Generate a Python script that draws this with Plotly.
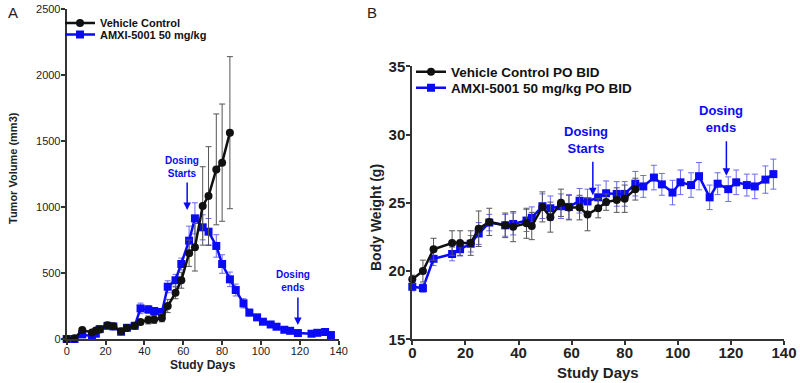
import plotly.graph_objects as go

# ---------------- Panel A: tumor volume ----------------
tv_days_vehicle = [0, 4, 8, 13, 15, 17, 21, 24, 28, 31, 35, 38, 42, 45, 49, 52, 56, 59, 63, 66, 70, 73, 77, 80, 84]
tv_vehicle = [0, 5, 68, 50, 65, 72, 104, 97, 58, 84, 100, 128, 144, 148, 160, 250, 350, 445, 650, 695, 1008, 1083, 1285, 1336, 1563]
tv_vehicle_err = [0, 3, 10, 8, 10, 10, 12, 10, 8, 10, 12, 20, 30, 30, 30, 50, 45, 60, 100, 180, 297, 374, 420, 444, 576]

tv_days_amxi = [0, 4, 8, 13, 15, 17, 21, 24, 28, 31, 35, 38, 42, 45, 49, 52, 56, 59, 63, 66, 70, 73, 77, 80, 84,
                87, 91, 94, 98, 101, 105, 108, 112, 115, 119, 126, 129, 133, 136]
tv_amxi = [0, 0, 35, 20, 40, 75, 100, 95, 55, 85, 100, 232, 224, 212, 205, 396, 445, 568, 745, 914, 846, 813, 705, 568, 452,
           371, 270, 200, 164, 131, 110, 93, 70, 62, 45, 40, 47, 53, 30]
tv_amxi_err = [0, 2, 8, 8, 10, 12, 12, 10, 8, 10, 12, 40, 30, 25, 25, 45, 45, 45, 110, 118, 95, 100, 85, 70, 55,
               45, 35, 25, 20, 15, 12, 10, 8, 8, 6, 6, 6, 8, 6]

# ---------------- Panel B: body weight ----------------
bw_days_vehicle = [0, 4, 8, 15, 18, 22, 25, 29, 35, 38, 43, 45, 49, 52, 56, 59, 63, 66, 70, 73, 77, 80, 84]
bw_vehicle = [19.4, 20.0, 21.6, 22.05, 22.05, 22.05, 23.1, 23.6, 23.35, 23.25, 23.5, 23.3, 24.7, 23.95, 25.0, 24.65,
              24.65, 24.15, 24.6, 25.05, 25.2, 25.3, 26.0]
bw_vehicle_err = [0.3, 0.8, 0.8, 0.9, 0.9, 0.9, 1.3, 1.0, 0.9, 1.1, 1.1, 1.0, 1.1, 1.1, 1.0, 0.9, 0.9, 1.2, 0.7, 0.6,
                  0.9, 1.0, 0.8]

bw_days_amxi = [0, 4, 8, 15, 18, 22, 25, 29, 35, 38, 43, 45, 49, 52, 56, 59, 63, 66, 70, 73, 77, 80, 84,
                87, 91, 94, 98, 101, 105, 108, 112, 115, 119, 122, 126, 129, 133, 136]
bw_amxi = [18.85, 18.75, 20.9, 21.25, 21.6, 22.0, 22.75, 23.55, 23.35, 23.45, 23.7, 23.9, 24.75, 24.6, 24.75, 24.7,
           25.15, 25.1, 25.4, 25.7, 25.65, 25.65, 26.4, 26.2, 26.85, 26.35, 25.75, 26.5, 26.3, 26.95, 25.4, 26.4,
           26.0, 26.5, 26.3, 26.2, 26.7, 27.1]
bw_amxi_err = [0.3, 0.3, 0.5, 0.5, 0.5, 0.6, 0.8, 0.6, 0.8, 0.8, 0.8, 0.8, 0.9, 0.9, 0.9, 0.9,
               0.9, 0.9, 0.9, 0.9, 0.9, 0.9, 0.9, 0.8, 0.9, 0.8, 0.9, 0.9, 0.9, 1.0, 0.9, 0.8,
               0.9, 0.9, 0.8, 0.9, 1.0, 1.1]

BLUE = "#0a0af5"
BLUE_ERR = "#6b6bf5"
BLACK = "#111111"
BLACK_ERR = "#555555"
AXIS = "#333333"
FONT = "Liberation Sans, Arial, sans-serif"

W, H = 800, 383
def px(x):
    return x / W
def py(y):
    return 1 - y / H

fig = go.Figure()

# Panel A traces
fig.add_trace(go.Scatter(
    x=tv_days_amxi, y=tv_amxi, mode="lines+markers", name="AMXI-5001 50 mg/kg",
    line=dict(color=BLUE, width=2.5), marker=dict(symbol="square", size=8, color=BLUE),
    error_y=dict(type="data", array=tv_amxi_err, color=BLUE_ERR, thickness=1, width=3),
    xaxis="x", yaxis="y", cliponaxis=False, legend="legend2"))
fig.add_trace(go.Scatter(
    x=tv_days_vehicle, y=tv_vehicle, mode="lines+markers", name="Vehicle Control",
    line=dict(color=BLACK, width=2.5), marker=dict(symbol="circle", size=8, color=BLACK),
    error_y=dict(type="data", array=tv_vehicle_err, color=BLACK_ERR, thickness=1, width=3),
    xaxis="x", yaxis="y", cliponaxis=False, legend="legend"))

# Panel B traces
fig.add_trace(go.Scatter(
    x=bw_days_amxi, y=bw_amxi, mode="lines+markers", name="AMXI-5001 50 mg/kg PO BID",
    line=dict(color=BLUE, width=2.5), marker=dict(symbol="square", size=8, color=BLUE),
    error_y=dict(type="data", array=bw_amxi_err, color=BLUE_ERR, thickness=1, width=3),
    xaxis="x2", yaxis="y2", cliponaxis=False, legend="legend4"))
fig.add_trace(go.Scatter(
    x=bw_days_vehicle, y=bw_vehicle, mode="lines+markers", name="Vehicle Control PO BID",
    line=dict(color=BLACK, width=2.5), marker=dict(symbol="circle", size=8, color=BLACK),
    error_y=dict(type="data", array=bw_vehicle_err, color=BLACK_ERR, thickness=1, width=3),
    xaxis="x2", yaxis="y2", cliponaxis=False, legend="legend3"))

axis_common = dict(showline=True, linewidth=2, linecolor=AXIS, ticks="outside", ticklen=4,
                   tickwidth=1.5, tickcolor=AXIS, showgrid=False, zeroline=False, automargin=False)

def leg(x, y, size):
    return dict(x=x, y=y, xanchor="left", yanchor="middle", bgcolor="rgba(0,0,0,0)",
                font=dict(family=FONT, size=size, color="#111", weight="bold"), itemwidth=30,
                borderwidth=0, tracegroupgap=0)

fig.update_layout(
    width=W, height=H, margin=dict(l=0, r=0, t=0, b=0, autoexpand=False),
    paper_bgcolor="white", plot_bgcolor="white",
    font=dict(family=FONT, color="#222"),
    xaxis=dict(domain=[px(66.7), px(338.7)], range=[0, 140], tickvals=[0, 20, 40, 60, 80, 100, 120, 140],
               tickfont=dict(size=11, color="#222"), anchor="y", ticklabelstandoff=-3, **axis_common),
    yaxis=dict(domain=[py(339), py(9)], range=[0, 2500], tickvals=[0, 500, 1000, 1500, 2000, 2500],
               tickfont=dict(size=11, color="#222"), anchor="x", ticklabelstandoff=-2, **axis_common),
    xaxis2=dict(domain=[px(412.3), px(784)], range=[0, 140], tickvals=[0, 20, 40, 60, 80, 100, 120, 140],
                tickfont=dict(size=15, color="#222", weight="bold"), anchor="y2", ticklabelstandoff=-5,
                **axis_common),
    yaxis2=dict(domain=[py(339.3), py(66.3)], range=[15, 35], tickvals=[15, 20, 25, 30, 35],
                tickfont=dict(size=15, color="#222", weight="bold"), anchor="x2", ticklabelstandoff=-2,
                **axis_common),
    showlegend=True,
    legend=leg(px(60), py(23), 11),
    legend2=leg(px(60), py(34.5), 11),
    legend3=leg(px(411), py(72), 13.5),
    legend4=leg(px(411), py(88), 13.5),
)

def pann(text, x, y, size, angle=0):
    return dict(text=text, x=px(x), y=py(y), xref="paper", yref="paper", showarrow=False,
                xanchor="center", yanchor="middle", textangle=angle,
                font=dict(family=FONT, size=size, color="#222"))

ann = []
# Panel labels
ann.append(pann("A", 13, 12, 15))
ann.append(pann("B", 372, 12, 15))
# Axis titles
ann.append(pann("<b>Tumor Volume (mm3)</b>", 13, 168, 11, -90))
ann.append(pann("<b>Study Days</b>", 203, 365, 12))
ann.append(pann("<b>Body Weight (g)</b>", 376, 218, 14, -90))
ann.append(pann("<b>Study Days</b>", 598, 372, 15))

# Dosing annotations panel A
ann.append(dict(text="<b>Dosing<br>Starts</b>", x=59.3, y=1197, xref="x", yref="y", showarrow=False,
                xanchor="center", yanchor="bottom", font=dict(family=FONT, size=10, color=BLUE)))
ann.append(dict(text="", x=62, y=977, xref="x", yref="y", showarrow=True, ax=0, ay=-29,
                arrowhead=2, arrowsize=1, arrowwidth=1.5, arrowcolor=BLUE))
ann.append(dict(text="<b>Dosing<br>ends</b>", x=116.5, y=333, xref="x", yref="y", showarrow=False,
                xanchor="center", yanchor="bottom", font=dict(family=FONT, size=10, color=BLUE)))
ann.append(dict(text="", x=119, y=106, xref="x", yref="y", showarrow=True, ax=0, ay=-29,
                arrowhead=2, arrowsize=1, arrowwidth=1.5, arrowcolor=BLUE))
# Dosing annotations panel B
ann.append(dict(text="<b>Dosing<br>Starts</b>", x=65.6, y=28.28, xref="x2", yref="y2", showarrow=False,
                xanchor="center", yanchor="bottom", font=dict(family=FONT, size=13, color=BLUE)))
ann.append(dict(text="", x=68, y=25.56, xref="x2", yref="y2", showarrow=True, ax=0, ay=-35,
                arrowhead=2, arrowsize=1, arrowwidth=1.5, arrowcolor=BLUE))
ann.append(dict(text="<b>Dosing<br>ends</b>", x=116.4, y=29.82, xref="x2", yref="y2", showarrow=False,
                xanchor="center", yanchor="bottom", font=dict(family=FONT, size=13, color=BLUE)))
ann.append(dict(text="", x=118.3, y=26.98, xref="x2", yref="y2", showarrow=True, ax=0, ay=-36,
                arrowhead=2, arrowsize=1, arrowwidth=1.5, arrowcolor=BLUE))

fig.update_layout(annotations=ann)
fig.write_html("out.html", config={"displayModeBar": False},
               post_script="document.body.style.margin='0';document.body.style.overflow='hidden';")
